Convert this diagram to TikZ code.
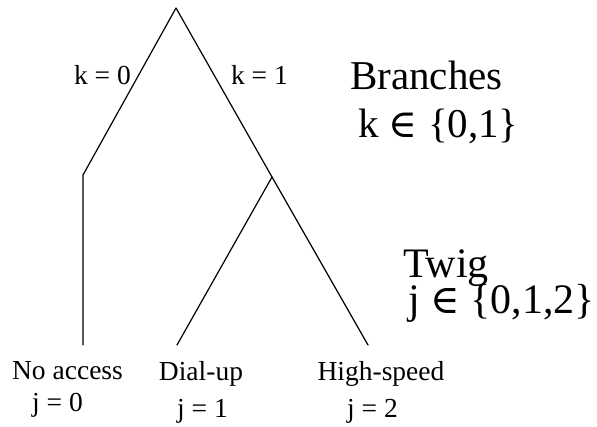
\documentclass[tikz,border=0pt]{standalone}
\usepackage{fontspec}
\setmainfont{Liberation Serif}
\newfontfamily\symfont[Scale=0.95]{DejaVu Serif}
\newcommand{\elemof}{{\symfont ∈}}
\begin{document}
\begin{tikzpicture}[x=1pt,y=-1pt,
  limb/.style={line width=1.2pt,line cap=round,line join=round},
  small/.style={inner sep=0pt,anchor=base,font=\fontsize{27.5}{30}\selectfont},
  big/.style={inner sep=0pt,anchor=base west,font=\fontsize{41}{44}\selectfont}]
  \useasboundingbox (0,0) rectangle (597,426);
  % tree points
  \coordinate (root) at (176,8);
  \coordinate (kink) at (83,175);
  \coordinate (leafA) at (83,345);
  \coordinate (fork) at (272,177);
  \coordinate (leafB) at (177,345);
  \coordinate (leafC) at (368,345);
  % branches and twigs
  \draw[limb] (leafA) -- (kink) -- (root) -- (fork) -- (leafC);
  \draw[limb] (fork) -- (leafB);
  % branch labels
  \node[small] (k0) at (102.5,84) {k = 0};
  \node[small] (k1) at (259.5,84) {k = 1};
  % legend
  \node[big] (br) at (350,89) {Branches};
  \node[big] (brset) at (358,137) {k \elemof{} \{0,1\}};
  \node[big,font=\fontsize{42}{44}\selectfont] (tw) at (403,277) {Twig};
  \node[big,font=\fontsize{42}{44}\selectfont] (twset) at (408,313) {j \elemof{} \{0,1,2\}};
  % leaf labels
  \node[small] (na) at (67.5,379) {No access};
  \node[small] (na0) at (57.5,411) {j = 0};
  \node[small] (du) at (201,380) {Dial-up};
  \node[small] (du1) at (202.5,417) {j = 1};
  \node[small] (hs) at (381,380) {High-speed};
  \node[small] (hs2) at (372.5,417) {j = 2};
\end{tikzpicture}
\end{document}
